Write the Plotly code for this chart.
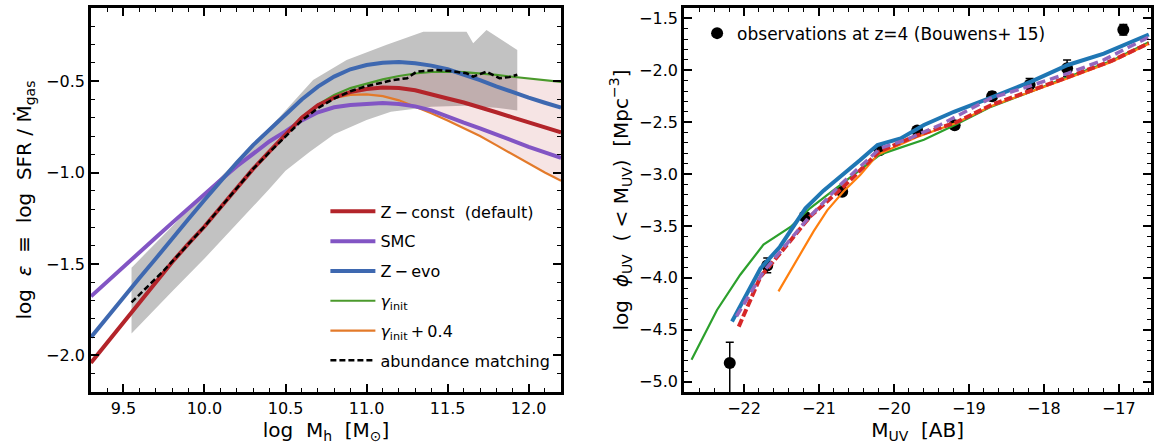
import plotly.graph_objects as go

# ---------------- Left panel data ----------------
mh = [9.3, 9.4, 9.5, 9.6, 9.7, 9.8, 9.9, 10.0, 10.1, 10.2, 10.3, 10.4, 10.5, 10.6,
      10.7, 10.8, 10.9, 11.0, 11.1, 11.2, 11.3, 11.4, 11.5, 11.6, 11.7, 11.8, 11.9,
      12.0, 12.1, 12.2]
eps_zconst = [-2.04, -1.93, -1.82, -1.71, -1.60, -1.49, -1.39, -1.295, -1.19, -1.085,
              -0.98, -0.885, -0.795, -0.70, -0.632, -0.59, -0.56, -0.543, -0.535,
              -0.537, -0.55, -0.57, -0.595, -0.617, -0.642, -0.67, -0.698, -0.725,
              -0.752, -0.78]
eps_smc = [-1.677, -1.595, -1.515, -1.435, -1.355, -1.275, -1.195, -1.115, -1.04,
           -0.965, -0.895, -0.83, -0.775, -0.715, -0.67, -0.643, -0.63, -0.623, -0.62,
           -0.625, -0.638, -0.66, -0.695, -0.727, -0.758, -0.79, -0.825, -0.86, -0.89,
           -0.92]
eps_zevo = [-1.90, -1.79, -1.685, -1.575, -1.47, -1.36, -1.255, -1.15, -1.045, -0.945,
            -0.85, -0.765, -0.68, -0.60, -0.53, -0.475, -0.435, -0.412, -0.399,
            -0.395, -0.402, -0.415, -0.435, -0.462, -0.494, -0.528, -0.56, -0.59,
            -0.618, -0.645]
eps_ginit = [-2.04, -1.93, -1.82, -1.71, -1.60, -1.49, -1.39, -1.295, -1.19, -1.085,
             -0.98, -0.885, -0.795, -0.70, -0.628, -0.575, -0.538, -0.512, -0.49,
             -0.472, -0.458, -0.45, -0.448, -0.451, -0.457, -0.466, -0.476, -0.486,
             -0.495, -0.504]
eps_ginit04 = [-2.04, -1.93, -1.82, -1.71, -1.60, -1.49, -1.39, -1.295, -1.19, -1.085,
               -0.98, -0.885, -0.795, -0.695, -0.63, -0.592, -0.575, -0.572, -0.582,
               -0.605, -0.638, -0.675, -0.715, -0.757, -0.80, -0.85, -0.90, -0.95,
               -1.0, -1.045]

am_mh = [9.55, 9.65, 9.75, 9.85, 10.0, 10.1, 10.2, 10.3, 10.4, 10.5, 10.6, 10.7, 10.8,
         10.9, 11.0, 11.1, 11.15, 11.25, 11.31, 11.43, 11.52, 11.617, 11.658, 11.70,
         11.74, 11.82, 11.88, 11.93]
am_eps = [-1.71, -1.625, -1.535, -1.44, -1.295, -1.19, -1.085, -0.98, -0.89, -0.805,
          -0.715, -0.648, -0.595, -0.555, -0.527, -0.508, -0.496, -0.484, -0.448,
          -0.439, -0.445, -0.457, -0.475, -0.462, -0.448, -0.484, -0.478, -0.465]

band_up_mh = [9.55, 9.8, 10.0, 10.26, 10.466, 10.67, 10.877, 11.12, 11.35, 11.617,
              11.658, 11.74, 11.93]
band_up = [-1.52, -1.295, -1.11, -0.876, -0.694, -0.494, -0.384, -0.302, -0.23, -0.23,
           -0.293, -0.22, -0.33]
band_lo_mh = [9.55, 9.8, 10.0, 10.2, 10.4, 10.5, 10.65, 10.8, 11.0, 11.15, 11.4, 11.6,
              11.8, 11.93]
band_lo = [-1.88, -1.65, -1.47, -1.28, -1.09, -0.99, -0.886, -0.79, -0.712, -0.667,
           -0.64, -0.635, -0.645, -0.66]

# ---------------- Right panel data ----------------
obs_m = [-22.19, -21.69, -21.19, -20.69, -20.19, -19.69, -19.19, -18.69, -18.19,
         -17.69, -16.94]
obs_phi = [-4.82, -3.88, -3.41, -3.17, -2.77, -2.58, -2.53, -2.25, -2.14, -1.98, -1.61]
obs_err_up = [0.20, 0.07, 0.03, 0.03, 0.03, 0.03, 0.03, 0.04, 0.06, 0.08, 0.05]
obs_err_lo = [0.60, 0.07, 0.03, 0.03, 0.03, 0.03, 0.03, 0.04, 0.06, 0.08, 0.05]

uv_zevo_m = [-22.16, -21.78, -21.52, -21.18, -20.94, -20.71, -20.45, -20.22, -19.91,
             -19.6, -19.2, -18.67, -18.17, -17.68, -17.2, -16.6]
uv_zevo = [-4.42, -3.91, -3.70, -3.33, -3.16, -3.025, -2.865, -2.72, -2.656, -2.527,
           -2.40, -2.254, -2.11, -1.949, -1.84, -1.655]
uv_smc_m = [-22.1, -21.74, -21.16, -20.71, -20.18, -19.82, -19.38, -18.71, -18.22,
            -17.68, -17.2, -16.6]
uv_smc = [-4.37, -3.94, -3.44, -3.10, -2.75, -2.665, -2.525, -2.27, -2.16, -2.03, -1.90,
          -1.68]
uv_zconst_m = [-22.07, -21.78, -21.52, -21.12, -20.67, -20.2, -19.7, -19.18, -18.7,
               -18.17, -17.6, -17.1, -16.6]
uv_zconst = [-4.47, -3.99, -3.765, -3.41, -3.12, -2.785, -2.63, -2.505, -2.335, -2.20,
             -2.045, -1.91, -1.74]
uv_ginit04_m = [-21.54, -21.3, -21.07, -20.89, -20.67, -20.45, -20.22, -19.7, -19.18,
                -18.7, -18.22, -17.68, -17.1, -16.6]
uv_ginit04 = [-4.13, -3.83, -3.55, -3.35, -3.165, -3.01, -2.815, -2.645, -2.51, -2.345,
              -2.22, -2.077, -1.92, -1.745]
uv_ginit_m = [-22.7, -22.36, -22.05, -21.74, -21.38, -21.12, -20.87, -20.5, -20.18,
              -19.6, -19.18, -18.7, -18.2, -17.7, -17.1, -16.6]
uv_ginit = [-4.79, -4.31, -3.97, -3.68, -3.51, -3.33, -3.19, -2.99, -2.81, -2.67,
            -2.525, -2.35, -2.215, -2.07, -1.91, -1.73]

# ---------------- Figure ----------------
FONT = "DejaVu Sans"
fig = go.Figure()

# grey abundance-matching band (left)
fig.add_trace(go.Scatter(
    x=band_up_mh + band_lo_mh[::-1], y=band_up + band_lo[::-1],
    fill="toself", fillcolor="#c2c2c2", line=dict(width=0), mode="lines",
    showlegend=False, hoverinfo="skip", xaxis="x", yaxis="y"))

# pink fill between gamma_init and gamma_init+0.4
i0 = mh.index(10.5)
fig.add_trace(go.Scatter(
    x=mh[i0:] + mh[i0:][::-1], y=eps_ginit[i0:] + eps_ginit04[i0:][::-1],
    fill="toself", fillcolor="rgba(178,34,34,0.12)", line=dict(width=0), mode="lines",
    showlegend=False, hoverinfo="skip", xaxis="x", yaxis="y"))

left_lines = [
    ("<i>γ</i><sub>init</sub>", eps_ginit, "#4b9a2c", 2.2, 4),
    ("<i>γ</i><sub>init</sub>\u2009+\u20090.4", eps_ginit04, "#e37a2a", 2.2, 5),
    ("SMC", eps_smc, "#8255c4", 4, 2),
    ("Z\u2009−\u2009evo", eps_zevo, "#3e68b0", 4, 3),
    ("Z\u2009−\u2009const\u00a0\u00a0(default)", eps_zconst, "#b3242a", 4, 1),
]
for name, yv, col, w, rank in left_lines:
    fig.add_trace(go.Scatter(
        x=mh, y=yv, mode="lines", name=name, line=dict(color=col, width=w),
        legend="legend", legendrank=rank, legendgroup="g%d" % rank,
        xaxis="x", yaxis="y"))

fig.add_trace(go.Scatter(
    x=am_mh, y=am_eps, mode="lines", name="abundance matching",
    line=dict(color="black", width=2.5, dash="6px,3px"),
    legend="legend", legendrank=6, legendgroup="g6", xaxis="x", yaxis="y"))

# right panel
fig.add_trace(go.Scatter(
    x=obs_m, y=obs_phi, mode="markers", name="observations at z=4 (Bouwens+ 15)",
    marker=dict(color="black", size=12),
    error_y=dict(type="data", array=obs_err_up, arrayminus=obs_err_lo,
                 color="black", thickness=1.5, width=4),
    legend="legend2", xaxis="x2", yaxis="y2"))

right_lines = [
    (uv_ginit_m, uv_ginit, "#2ca02c", 2.2, None),
    (uv_ginit04_m, uv_ginit04, "#ff7f0e", 2.2, None),
    (uv_zevo_m, uv_zevo, "#1f77b4", 4, None),
    (uv_zconst_m, uv_zconst, "#d62728", 4, "8px,3px"),
    (uv_smc_m, uv_smc, "#9467bd", 3.5, "9px,5px"),
]
for xv, yv, col, w, d in right_lines:
    fig.add_trace(go.Scatter(
        x=xv, y=yv, mode="lines", line=dict(color=col, width=w, dash=d),
        showlegend=False, xaxis="x2", yaxis="y2"))

tickfont = dict(family=FONT, size=16, color="black")
titlefont = dict(family=FONT, size=20, color="black")
common = dict(showline=True, linewidth=2.8, linecolor="black", mirror="ticks",
              ticks="inside", ticklen=8, tickwidth=1.8, tickcolor="black",
              showgrid=False, zeroline=False, tickfont=tickfont)

fig.update_layout(
    width=1158, height=445,
    margin=dict(l=0, r=0, t=0, b=0),
    paper_bgcolor="white", plot_bgcolor="white",
    font=dict(family=FONT, color="black"),
    xaxis=dict(domain=[0.0786, 0.4845], range=[9.3, 12.2], dtick=0.5, tick0=9.5,
               tickformat=".1f",
               minor=dict(ticks="inside", dtick=0.1, ticklen=4, tickwidth=1.2,
                          tickcolor="black"),
               title=dict(text="log\u00a0\u00a0M<sub>h</sub>\u00a0\u00a0[M<sub>⊙</sub>]",
                          font=titlefont, standoff=6),
               anchor="y", **common),
    yaxis=dict(domain=[0.1191, 0.982], range=[-2.2, -0.1], dtick=0.5, tick0=-2.0,
               tickformat=".1f",
               minor=dict(ticks="inside", dtick=0.1, ticklen=4, tickwidth=1.2,
                          tickcolor="black"),
               title=dict(text="log\u00a0\u00a0<i>ε</i>\u00a0\u00a0≡\u00a0\u00a0log\u00a0\u00a0SFR\u00a0/\u00a0Ṁ<sub>gas</sub>",
                          font=titlefont, standoff=10),
               anchor="x", **common),
    xaxis2=dict(domain=[0.5907, 0.994], range=[-22.8, -16.57], dtick=1, tick0=-22,
                minor=dict(ticks="inside", dtick=0.2, ticklen=4, tickwidth=1.2,
                           tickcolor="black"),
                title=dict(text="M<sub>UV</sub>\u00a0\u00a0[AB]", font=titlefont,
                           standoff=6),
                anchor="y2", **common),
    yaxis2=dict(domain=[0.1191, 0.982], range=[-5.1, -1.4], dtick=0.5, tick0=-5.0,
                tickformat=".1f",
                minor=dict(ticks="inside", dtick=0.1, ticklen=4, tickwidth=1.2,
                           tickcolor="black"),
                title=dict(text="log\u00a0\u00a0<i>ϕ</i><sub>UV</sub>\u00a0\u00a0(\u00a0<\u00a0M<sub>UV</sub>)\u00a0\u00a0[Mpc<sup>−3</sup>]",
                           font=titlefont, standoff=6),
                anchor="x2", **common),
    legend=dict(x=0.281, y=0.563, xanchor="left", yanchor="top",
                bgcolor="rgba(0,0,0,0)", font=dict(family=FONT, size=16, color="black"),
                tracegroupgap=6, itemwidth=45, traceorder="grouped"),
    legend2=dict(x=0.602, y=0.965, xanchor="left", yanchor="top",
                 bgcolor="rgba(0,0,0,0)", font=dict(family=FONT, size=17, color="black")),
)

fig.write_html("out.html")
